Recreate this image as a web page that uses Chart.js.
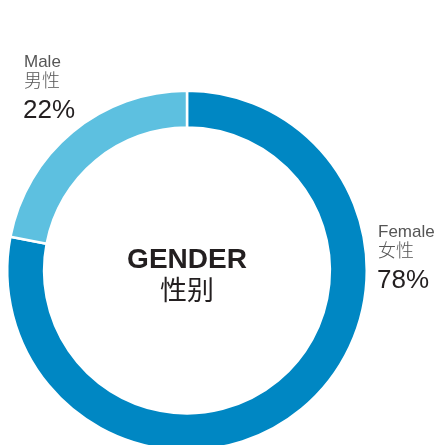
<!DOCTYPE html>
<html>
<head>
<meta charset="utf-8">
<script src="https://cdn.jsdelivr.net/npm/chart.js@4"></script>
<style>
  html, body { margin: 0; padding: 0; background: #fff; overflow: hidden; }
  #box { position: relative; width: 438px; height: 445px; overflow: hidden; }
</style>
</head>
<body>
<div id="box"><canvas id="grafico" width="438" height="470"></canvas></div>
<script>
// dati
const categorie = ['Female', 'Male'];
const categorieZh = ['女性', '男性'];
const valori = [78, 22];
const titolo = 'GENDER';
const titoloZh = '性别';

const LAT = '"Liberation Sans", Arial, Helvetica, sans-serif';
const CJK = '"Noto Sans CJK SC", "Noto Sans", sans-serif';

// scritte sopra il grafico
const scritte = {
  id: 'scritte',
  afterDraw(chart) {
    const ctx = chart.ctx;
    const meta = chart.getDatasetMeta(0);
    const cx = meta.data[0].x, cy = meta.data[0].y;
    ctx.save();
    ctx.textBaseline = 'alphabetic';

    // centro
    ctx.textAlign = 'center';
    ctx.fillStyle = '#231f20';
    ctx.font = 'bold 28px ' + LAT;
    ctx.fillText(titolo, cx, cy - 3);
    ctx.font = '27px ' + CJK;
    ctx.fillText(titoloZh, cx, cy + 29);

    // etichette laterali
    const pos = [
      { x: 378, y: 237 },  // Female
      { x: 24, y: 67 }     // Male
    ];
    ctx.textAlign = 'left';
    for (let i = 0; i < categorie.length; i++) {
      const p = pos[i];
      ctx.fillStyle = '#555';
      ctx.font = '17px ' + LAT;
      ctx.fillText(categorie[i], p.x, p.y);
      ctx.font = '300 18px ' + CJK;
      ctx.fillText(categorieZh[i], p.x, p.y + 20);
      ctx.fillStyle = '#231f20';
      ctx.font = '26px ' + LAT;
      ctx.fillText(valori[i] + '%', p.x - 1, p.y + 51);
    }
    ctx.restore();
  }
};

new Chart(document.getElementById('grafico'), {
  type: 'doughnut',
  data: {
    labels: categorie,
    datasets: [{
      data: valori,
      backgroundColor: ['#0087c3', '#5dc0e0'],
      borderColor: '#ffffff',
      borderWidth: 2.5,
      hoverOffset: 0
    }]
  },
  options: {
    responsive: false,
    animation: false,
    cutout: '79.5%',
    layout: { padding: { left: 6, top: 89, right: 70, bottom: 18 } },
    plugins: {
      legend: { display: false },
      tooltip: { enabled: false }
    }
  },
  plugins: [scritte]
});
</script>
</body>
</html>
